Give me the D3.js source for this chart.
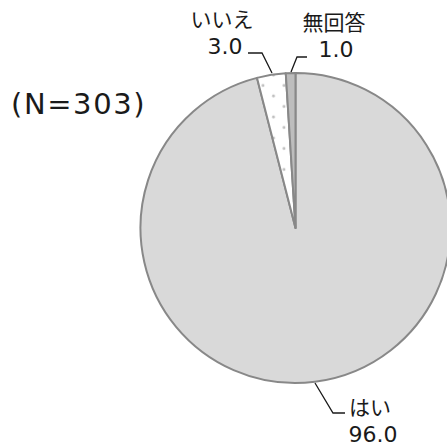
<!DOCTYPE html>
<html><head><meta charset="utf-8">
<script src="https://cdn.jsdelivr.net/npm/d3@7"></script>
<style>
html,body{margin:0;padding:0;background:#fff;}
svg{display:block;}
text{font-family:"DejaVu Sans","Noto Sans CJK JP",sans-serif;fill:#1a1a1a;}
</style></head>
<body>
<script>
const categories = ["はい", "いいえ", "無回答"];
const values = [96.0, 3.0, 1.0];
const sampleLabel = "(N=303)";

const W = 447, H = 447;
const cx = 295.5, cy = 228, R = 155;

const svg = d3.select("body").append("svg").attr("width", W).attr("height", H);

const defs = svg.append("defs");
const pat = defs.append("pattern").attr("id", "dots")
  .attr("patternUnits", "userSpaceOnUse")
  .attr("width", 21).attr("height", 21)
  .attr("x", 272 - 5.25).attr("y", 78 - 5.25);
pat.append("rect").attr("width", 21).attr("height", 21).attr("fill", "#ffffff");
pat.append("circle").attr("cx", 5.25).attr("cy", 5.25).attr("r", 1.4).attr("fill", "#bdbdbd");
pat.append("circle").attr("cx", 15.75).attr("cy", 15.75).attr("r", 1.4).attr("fill", "#bdbdbd");

const fills = ["#d9d9d9", "url(#dots)", "#bdbdbd"];

const pie = d3.pie().sort(null).value(d => d)(values);
const arc = d3.arc().innerRadius(0).outerRadius(R);

const g = svg.append("g").attr("transform", `translate(${cx},${cy})`);
g.selectAll("path.slice").data(pie).join("path")
  .attr("class", "slice")
  .attr("d", arc)
  .attr("fill", (d, i) => fills[i])
  .attr("stroke", "#888888")
  .attr("stroke-width", 2)
  .attr("stroke-linejoin", "round");

const labelInfo = [
  { name: [370, 415], val: [373, 442], line: [[315, 383], [333, 413], [345, 413]] },
  { name: [222, 27],  val: [225, 54],  line: [[272, 73], [262, 53], [248, 53]] },
  { name: [334, 30],  val: [336, 57],  line: [[291, 72], [297, 57], [307, 57]] }
];

const lbl = svg.append("g");
categories.forEach((c, i) => {
  const L = labelInfo[i];
  lbl.append("path")
    .attr("d", d3.line()(L.line))
    .attr("fill", "none").attr("stroke", "#1a1a1a").attr("stroke-width", 1.3);
  lbl.append("text").attr("x", L.name[0]).attr("y", L.name[1])
    .attr("text-anchor", "middle").attr("font-size", 21).text(c);
  lbl.append("text").attr("x", L.val[0]).attr("y", L.val[1])
    .attr("text-anchor", "middle").attr("font-size", 22).text(values[i].toFixed(1));
});

svg.append("text").attr("x", 11).attr("y", 114)
  .attr("font-size", 29).attr("letter-spacing", 1.6).text(sampleLabel);
</script>
</body></html>
